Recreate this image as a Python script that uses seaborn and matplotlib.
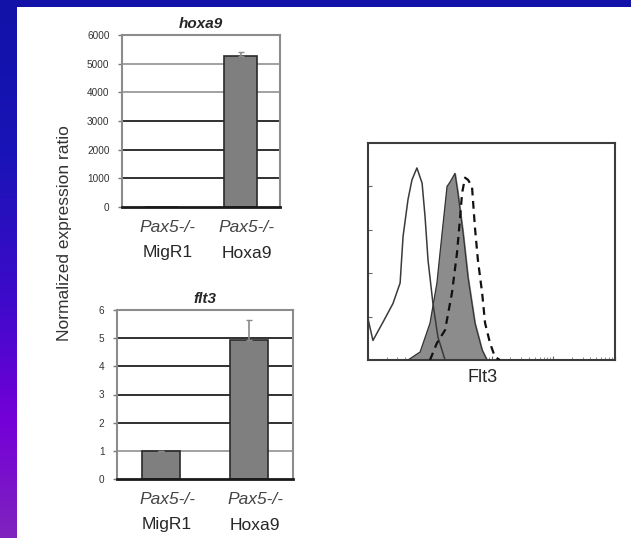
import numpy as np
import pandas as pd
import matplotlib
matplotlib.use("Agg")
import matplotlib.pyplot as plt
from matplotlib.patches import Rectangle
import seaborn as sns

# ---- data -------------------------------------------------------------
groups = ["MigR1", "Hoxa9"]
group_prefix = "Pax5-/-"

hoxa9_values = [1, 5260]
hoxa9_errors = [0, 150]

flt3_values = [1, 4.95]
flt3_errors = [0, 0.7]

# Flt3 flow histograms (channel, % of max)
open_x = [0, 20, 61, 101, 130, 142, 162, 178, 198, 219, 231, 243, 263, 283, 312, 1000]
open_y = [19, 9, 17.5, 26, 35.5, 57, 74, 83, 88.5, 81.5, 66, 46, 26, 10.6, 0, 0]

filled_x = [162, 211, 251, 279, 300, 320, 332, 352, 364, 385, 405, 433, 462, 482]
filled_y = [0, 3.7, 17, 35.5, 58.5, 80, 82, 86, 77, 58.5, 38, 17, 4.6, 0]

dashed_x = [251, 279, 312, 340, 360, 372, 381, 393, 405, 421, 433, 445, 462, 474, 494, 514, 534]
dashed_y = [0, 7.8, 13.8, 31, 49, 64.5, 77, 84, 83, 80, 61, 46, 31, 17, 7.8, 1.4, 0]

# ---- style ------------------------------------------------------------
sns.set_theme(style="white")
plt.rcParams["font.family"] = ["Liberation Sans", "DejaVu Sans"]
TXT = "#262626"

W, H = 631, 538
fig = plt.figure(figsize=(W / 100, H / 100), dpi=100)

# slide background: blue fading to violet, with a white content panel
bg = fig.add_axes([0, 0, 1, 1], zorder=-10)
stops_y = np.array([0, 150, 300, 420, 538])
stops_rgb = np.array([[18, 18, 168], [24, 20, 182], [62, 10, 202],
                      [116, 0, 216], [128, 36, 190]]) / 255.0
yy = np.arange(H)
grad = np.stack([np.interp(yy, stops_y, stops_rgb[:, k]) for k in range(3)], axis=1)
bg.imshow(grad[:, None, :], extent=[0, W, H, 0], aspect="auto")
bg.add_patch(Rectangle((17, 7), W - 17, H - 7, facecolor="white", edgecolor="none"))
bg.set_xlim(0, W)
bg.set_ylim(H, 0)
bg.axis("off")


def px_axes(x0, y0, x1, y1):
    return fig.add_axes([x0 / W, 1 - y1 / H, (x1 - x0) / W, (y1 - y0) / H])


def bar_panel(ax, values, errors, title, ymax, step, light_lines=()):
    df = pd.DataFrame({"group": groups, "value": values})
    sns.barplot(data=df, x="group", y="value", ax=ax, color="#7f7f7f",
                saturation=1, width=0.43, edgecolor="#2a2a2a", linewidth=1.2,
                errorbar=None, zorder=3)
    ax.errorbar(x=[0, 1], y=values, yerr=[[0, 0], errors], fmt="none",
                ecolor="#8a8a8a", elinewidth=1.2, capsize=2.5, capthick=1,
                zorder=4)
    ax.set_ylim(0, ymax)
    ax.set_xlim(-0.5, 1.5)
    ticks = np.arange(0, ymax + step / 2, step)
    ax.set_yticks(ticks)
    # horizontal gridlines behind the bars
    for t in ticks[1:-1]:
        c = "#9a9a9a" if t in light_lines else "#202020"
        ax.axhline(t, color=c, linewidth=1.3, zorder=1)
    ax.set_xlabel("")
    ax.set_ylabel("")
    ax.set_xticks([0, 1])
    ax.set_xticklabels([])
    ax.tick_params(axis="x", length=0)
    ax.tick_params(axis="y", length=3, width=1, color="#777", pad=6,
                   labelsize=7.2, labelcolor="#333", left=True)
    for side in ("left", "top", "right"):
        ax.spines[side].set_color("#8c8c8c")
        ax.spines[side].set_linewidth(1.5)
    ax.spines["bottom"].set_color("#1a1a1a")
    ax.spines["bottom"].set_linewidth(2)
    ax.spines["bottom"].set_zorder(5)
    ax.set_title(title, fontsize=11, fontstyle="italic", fontweight="bold",
                 color=TXT, pad=5)
    for i, g in enumerate(groups):
        ax.annotate(group_prefix, xy=(i, 0), xycoords=ax.get_xaxis_transform(),
                    xytext=(6, -21), textcoords="offset pixels", ha="center",
                    va="center", fontsize=12.5, fontstyle="italic", color="#444")
        ax.annotate(g, xy=(i, 0), xycoords=ax.get_xaxis_transform(),
                    xytext=(6, -46), textcoords="offset pixels", ha="center",
                    va="center", fontsize=12.5, color=TXT)


ax1 = px_axes(122, 35, 280, 207)
bar_panel(ax1, hoxa9_values, hoxa9_errors, "hoxa9", 6000, 1000,
          light_lines=(4000, 5000))

ax2 = px_axes(117, 310, 293, 479)
bar_panel(ax2, flt3_values, flt3_errors, "flt3", 6, 1, light_lines=(1,))

fig.text(64 / W, 1 - 233 / H, "Normalized expression ratio", rotation=90,
         ha="center", va="center", fontsize=12.5, color="#333")

# ---- flow histogram overlay -----------------------------------------
ax3 = px_axes(368, 143, 615, 360)
ax3.fill_between(filled_x, filled_y, 0, color="#8c8c8c", zorder=2)
sns.lineplot(x=filled_x, y=filled_y, ax=ax3, color="#333", linewidth=0.9,
             sort=False, estimator=None, zorder=3)
sns.lineplot(x=open_x, y=open_y, ax=ax3, color="#3a3a3a", linewidth=1.1,
             sort=False, estimator=None, zorder=4)
sns.lineplot(x=dashed_x, y=dashed_y, ax=ax3, color="#111", linewidth=1.6,
             sort=False, estimator=None, zorder=5, dashes=False,
             linestyle=(0, (3.5, 2.5)))
ax3.set_xlim(0, 1000)
ax3.set_ylim(0, 100)
ax3.set_xlabel("")
ax3.set_ylabel("")
ax3.set_yticks([20, 40, 60, 80])
ax3.set_yticklabels([])
decades = [0, 250, 500, 750, 1000]
minor = [d + 250 * np.log10(m) for d in decades[:-1] for m in range(2, 10)]
ax3.set_xticks(decades)
ax3.set_xticks(minor, minor=True)
ax3.set_xticklabels([])
ax3.tick_params(axis="both", which="major", direction="in", length=3,
                width=0.8, color="#666", left=True, bottom=True)
ax3.tick_params(axis="x", which="minor", direction="in", length=2,
                width=0.6, color="#777", bottom=True)
for s in ax3.spines.values():
    s.set_color("#3c3c3c")
    s.set_linewidth(1.5)
ax3.annotate("Flt3", xy=((483 - 368) / 247, 0), xycoords="axes fraction",
             xytext=(0, -18), textcoords="offset pixels", ha="center",
             va="center", fontsize=13, color=TXT)

fig.savefig("out.png", dpi=100)
